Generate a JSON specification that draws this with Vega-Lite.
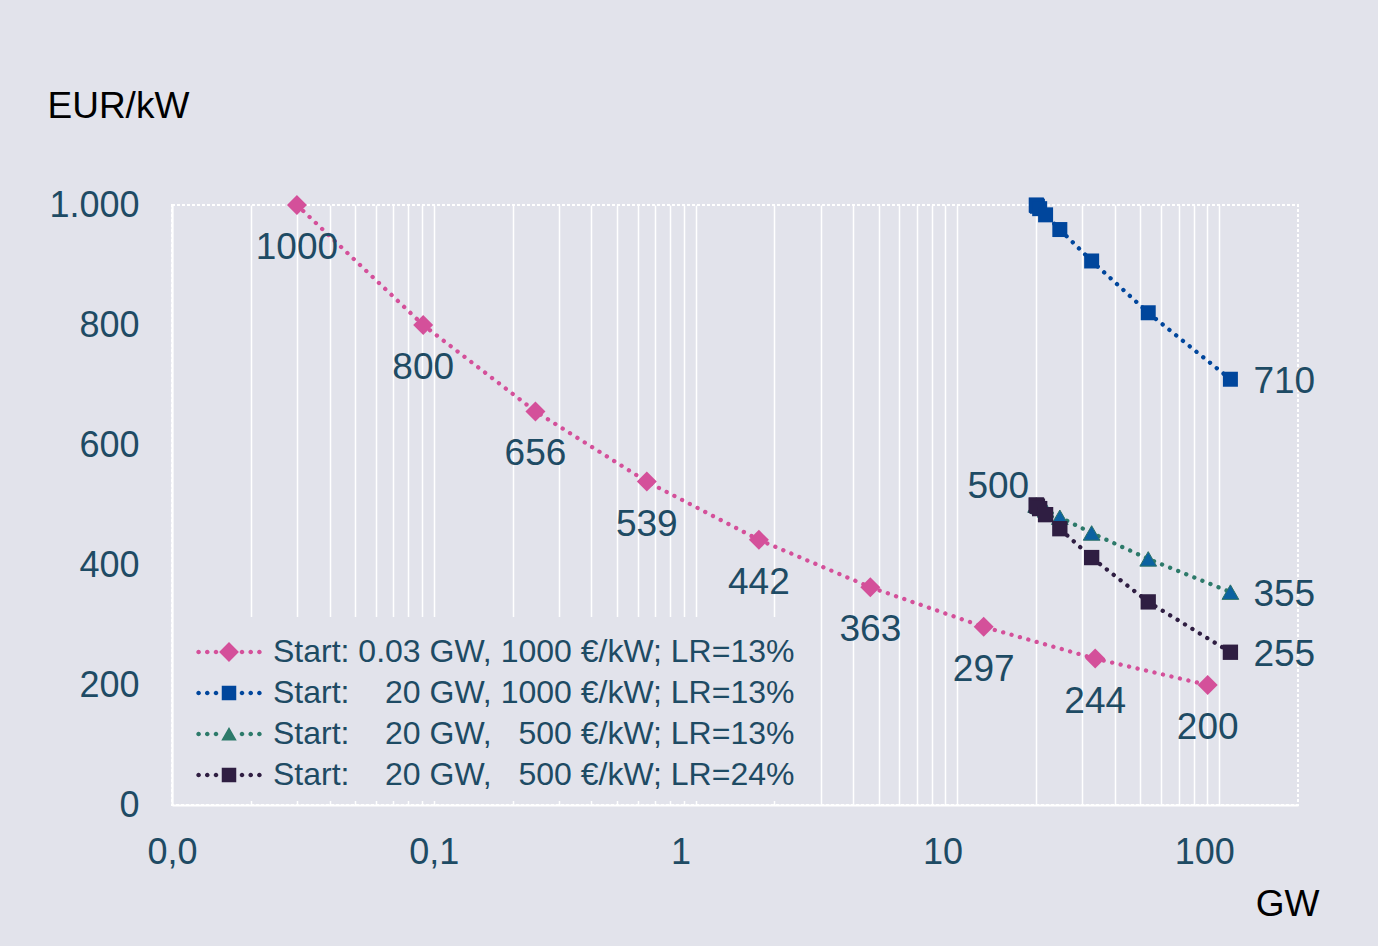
{
  "$schema": "https://vega.github.io/schema/vega-lite/v6.json",
  "width": 1126,
  "height": 600,
  "autosize": {"type": "none"},
  "padding": {"left": 172, "top": 205, "right": 80, "bottom": 141},
  "background": "#e2e3eb",
  "config": {
    "font": "Liberation Sans",
    "view": {"stroke": "#ffffff", "strokeWidth": 2, "strokeDash": [3, 2]}
  },
  "data": {
    "values": [
      {"k": "P", "x": 0.03, "y": 1000},
      {"k": "P", "x": 0.0911, "y": 800},
      {"k": "P", "x": 0.2445, "y": 656},
      {"k": "P", "x": 0.651, "y": 539},
      {"k": "P", "x": 1.745, "y": 442},
      {"k": "P", "x": 4.65, "y": 363},
      {"k": "P", "x": 12.6, "y": 297},
      {"k": "P", "x": 33.6, "y": 244},
      {"k": "P", "x": 90.4, "y": 200},
      {"k": "B", "x": 20, "y": 1000},
      {"k": "B", "x": 20.06, "y": 999.4},
      {"k": "B", "x": 20.215, "y": 997.9},
      {"k": "B", "x": 20.62, "y": 993.9},
      {"k": "B", "x": 21.72, "y": 983.6},
      {"k": "B", "x": 24.62, "y": 959.1},
      {"k": "B", "x": 32.57, "y": 906.7},
      {"k": "B", "x": 53.57, "y": 820.4},
      {"k": "B", "x": 110.37, "y": 709.6},
      {"k": "G", "x": 20, "y": 500},
      {"k": "G", "x": 20.06, "y": 499.7},
      {"k": "G", "x": 20.215, "y": 498.9},
      {"k": "G", "x": 20.62, "y": 497},
      {"k": "G", "x": 21.72, "y": 491.8},
      {"k": "G", "x": 24.62, "y": 479.6},
      {"k": "G", "x": 32.57, "y": 453.4},
      {"k": "G", "x": 53.57, "y": 410.2},
      {"k": "G", "x": 110.37, "y": 354.8},
      {"k": "D", "x": 20, "y": 500},
      {"k": "D", "x": 20.06, "y": 499.4},
      {"k": "D", "x": 20.215, "y": 497.9},
      {"k": "D", "x": 20.62, "y": 494},
      {"k": "D", "x": 21.72, "y": 483.9},
      {"k": "D", "x": 24.62, "y": 460.5},
      {"k": "D", "x": 32.57, "y": 412.4},
      {"k": "D", "x": 53.57, "y": 338.5},
      {"k": "D", "x": 110.37, "y": 254.6}
    ]
  },
  "encoding": {
    "x": {
      "field": "x",
      "type": "quantitative",
      "scale": {"type": "log", "domain": [0.01, 200]},
      "axis": {
        "values": [0.01, 0.02, 0.03, 0.04, 0.05, 0.06, 0.07, 0.08, 0.09, 0.1, 0.2, 0.3, 0.4, 0.5, 0.6, 0.7, 0.8, 0.9, 1, 2, 3, 4, 5, 6, 7, 8, 9, 10, 20, 30, 40, 50, 60, 70, 80, 90, 100],
        "grid": true,
        "gridColor": "#ffffff",
        "gridWidth": 1.5,
        "gridOpacity": 1,
        "ticks": false,
        "tickSize": 0,
        "domainColor": "#ffffff",
        "domainWidth": 2,
        "labelExpr": "datum.value == 0.01 ? '0,0' : datum.value == 0.1 ? '0,1' : (datum.value == 1 || datum.value == 10 || datum.value == 100) ? format(datum.value, 'd') : ''",
        "labelFontSize": 36,
        "labelColor": "#1e4b64",
        "labelPadding": 58,
        "labelBaseline": "alphabetic",
        "labelOverlap": false,
        "labelFlush": false,
        "labelBound": false,
        "labelOffset": {"condition": {"test": "datum.value >= 1", "value": -15}, "value": 0},
        "title": "GW",
        "titleFontSize": 37,
        "titleFontWeight": "normal",
        "titleColor": "#000000",
        "titleX": 1115,
        "titleY": 110,
        "titleAlign": "center",
        "titleBaseline": "alphabetic"
      }
    },
    "y": {
      "field": "y",
      "type": "quantitative",
      "scale": {"domain": [0, 1000]},
      "axis": {
        "values": [0, 200, 400, 600, 800, 1000],
        "grid": false,
        "ticks": false,
        "tickSize": 0,
        "domainColor": "#ffffff",
        "domainWidth": 2,
        "labelExpr": "datum.value == 1000 ? '1.000' : datum.label",
        "labelFontSize": 36,
        "labelColor": "#1e4b64",
        "labelPadding": 33,
        "title": "EUR/kW",
        "titleAngle": 0,
        "titleX": -125,
        "titleY": -88,
        "titleAlign": "left",
        "titleBaseline": "alphabetic",
        "titleFontSize": 37,
        "titleFontWeight": "normal",
        "titleColor": "#000000"
      }
    }
  },
  "layer": [
    {
      "mark": {"type": "line", "strokeWidth": 4.3, "strokeCap": "round", "strokeDash": [0.1, 8.6]},
      "encoding": {
        "stroke": {
          "field": "k",
          "type": "nominal",
          "scale": {"domain": ["D", "G", "B", "P"], "range": ["#2f1e42", "#2d7a6a", "#00469c", "#d4509a"]},
          "legend": null
        }
      }
    },
    {
      "transform": [{"filter": "datum.k == 'P'"}],
      "mark": {"type": "point", "shape": "diamond", "filled": true, "size": 400, "color": "#d4509a", "opacity": 1}
    },
    {
      "transform": [{"filter": "datum.k == 'B'"}],
      "mark": {"type": "point", "shape": "square", "filled": true, "size": 225, "color": "#00469c", "opacity": 1}
    },
    {
      "transform": [{"filter": "datum.k == 'G'"}],
      "mark": {"type": "point", "shape": "triangle-up", "filled": true, "size": 280, "fill": "#0b62a0", "stroke": "#2b7166", "strokeWidth": 1, "opacity": 1}
    },
    {
      "transform": [{"filter": "datum.k == 'D'"}],
      "mark": {"type": "point", "shape": "square", "filled": true, "size": 235, "color": "#2f1e42", "opacity": 1}
    },
    {
      "transform": [{"filter": "datum.y < 0"}],
      "mark": {"type": "point", "filled": true, "opacity": 1, "size": 2500},
      "encoding": {
        "color": {
          "field": "k",
          "type": "nominal",
          "scale": {"domain": ["P", "B", "G", "D"], "range": ["#d4509a", "#00469c", "#2d7a6a", "#2f1e42"]},
          "legend": {
            "title": null,
            "orient": "none",
            "legendX": 22,
            "legendY": 412,
            "labelExpr": "datum.value == 'P' ? 'Start: 0.03 GW, 1000 €/kW; LR=13%' : datum.value == 'B' ? 'Start:\u00a0\u00a0\u00a0\u00a020 GW, 1000 €/kW; LR=13%' : datum.value == 'G' ? 'Start:\u00a0\u00a0\u00a0\u00a020 GW,\u00a0\u00a0\u00a0500 €/kW; LR=13%' : 'Start:\u00a0\u00a0\u00a0\u00a020 GW,\u00a0\u00a0\u00a0500 €/kW; LR=24%'",
            "labelFontSize": 32,
            "labelColor": "#1e4b64",
            "labelLimit": 0,
            "symbolSize": 2500,
            "labelOffset": 19,
            "rowPadding": 0,
            "padding": 10,
            "fillColor": "#e2e3eb",
            "symbolStrokeWidth": 0,
            "symbolOpacity": 1
          }
        },
        "shape": {
          "field": "k",
          "type": "nominal",
          "scale": {
            "domain": ["P", "B", "G", "D"],
            "range": [
              "M-0.396,0L0,-0.396L0.396,0L0,0.396ZM-1.308,0a0.092,0.092 0 1,0 0.184,0a0.092,0.092 0 1,0 -0.184,0ZM-0.961,0a0.092,0.092 0 1,0 0.184,0a0.092,0.092 0 1,0 -0.184,0ZM-0.612,0a0.092,0.092 0 1,0 0.184,0a0.092,0.092 0 1,0 -0.184,0ZM0.428,0a0.092,0.092 0 1,0 0.184,0a0.092,0.092 0 1,0 -0.184,0ZM0.777,0a0.092,0.092 0 1,0 0.184,0a0.092,0.092 0 1,0 -0.184,0ZM1.124,0a0.092,0.092 0 1,0 0.184,0a0.092,0.092 0 1,0 -0.184,0Z",
              "M-0.29,-0.29L0.29,-0.29L0.29,0.29L-0.29,0.29ZM-1.308,0a0.092,0.092 0 1,0 0.184,0a0.092,0.092 0 1,0 -0.184,0ZM-0.961,0a0.092,0.092 0 1,0 0.184,0a0.092,0.092 0 1,0 -0.184,0ZM-0.612,0a0.092,0.092 0 1,0 0.184,0a0.092,0.092 0 1,0 -0.184,0ZM0.428,0a0.092,0.092 0 1,0 0.184,0a0.092,0.092 0 1,0 -0.184,0ZM0.777,0a0.092,0.092 0 1,0 0.184,0a0.092,0.092 0 1,0 -0.184,0ZM1.124,0a0.092,0.092 0 1,0 0.184,0a0.092,0.092 0 1,0 -0.184,0Z",
              "M0,-0.277L0.31,0.264L-0.31,0.264ZM-1.308,0a0.092,0.092 0 1,0 0.184,0a0.092,0.092 0 1,0 -0.184,0ZM-0.961,0a0.092,0.092 0 1,0 0.184,0a0.092,0.092 0 1,0 -0.184,0ZM-0.612,0a0.092,0.092 0 1,0 0.184,0a0.092,0.092 0 1,0 -0.184,0ZM0.428,0a0.092,0.092 0 1,0 0.184,0a0.092,0.092 0 1,0 -0.184,0ZM0.777,0a0.092,0.092 0 1,0 0.184,0a0.092,0.092 0 1,0 -0.184,0ZM1.124,0a0.092,0.092 0 1,0 0.184,0a0.092,0.092 0 1,0 -0.184,0Z",
              "M-0.29,-0.29L0.29,-0.29L0.29,0.29L-0.29,0.29ZM-1.308,0a0.092,0.092 0 1,0 0.184,0a0.092,0.092 0 1,0 -0.184,0ZM-0.961,0a0.092,0.092 0 1,0 0.184,0a0.092,0.092 0 1,0 -0.184,0ZM-0.612,0a0.092,0.092 0 1,0 0.184,0a0.092,0.092 0 1,0 -0.184,0ZM0.428,0a0.092,0.092 0 1,0 0.184,0a0.092,0.092 0 1,0 -0.184,0ZM0.777,0a0.092,0.092 0 1,0 0.184,0a0.092,0.092 0 1,0 -0.184,0ZM1.124,0a0.092,0.092 0 1,0 0.184,0a0.092,0.092 0 1,0 -0.184,0Z"
            ]
          },
          "legend": {
            "title": null,
            "orient": "none",
            "legendX": 22,
            "legendY": 412,
            "labelExpr": "datum.value == 'P' ? 'Start: 0.03 GW, 1000 €/kW; LR=13%' : datum.value == 'B' ? 'Start:\u00a0\u00a0\u00a0\u00a020 GW, 1000 €/kW; LR=13%' : datum.value == 'G' ? 'Start:\u00a0\u00a0\u00a0\u00a020 GW,\u00a0\u00a0\u00a0500 €/kW; LR=13%' : 'Start:\u00a0\u00a0\u00a0\u00a020 GW,\u00a0\u00a0\u00a0500 €/kW; LR=24%'",
            "labelFontSize": 32,
            "labelColor": "#1e4b64",
            "labelLimit": 0,
            "symbolSize": 2500,
            "labelOffset": 19,
            "rowPadding": 0,
            "padding": 10,
            "fillColor": "#e2e3eb",
            "symbolStrokeWidth": 0,
            "symbolOpacity": 1
          }
        }
      }
    },
    {
      "transform": [{"filter": "datum.k == 'P'"}],
      "mark": {"type": "text", "fontSize": 37, "color": "#1e4b64", "baseline": "alphabetic", "align": "center", "dy": 54},
      "encoding": {"text": {"field": "y", "type": "quantitative", "format": ".0f"}}
    },
    {
      "transform": [{"filter": "datum.k != 'P' && datum.x > 100"}],
      "mark": {"type": "text", "fontSize": 37, "color": "#1e4b64", "baseline": "alphabetic", "align": "left", "dx": 23, "dy": 13.5},
      "encoding": {"text": {"field": "y", "type": "quantitative", "format": ".0f"}}
    },
    {
      "transform": [{"filter": "datum.k == 'D' && datum.x == 20"}],
      "mark": {"type": "text", "fontSize": 37, "color": "#1e4b64", "baseline": "alphabetic", "align": "right", "dx": -7, "dy": -7},
      "encoding": {"text": {"field": "y", "type": "quantitative", "format": ".0f"}}
    }
  ]
}
